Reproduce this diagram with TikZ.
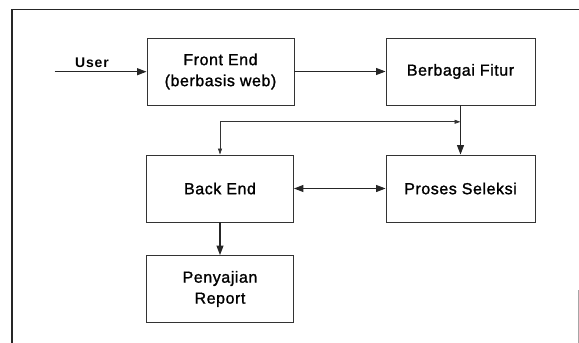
\documentclass[tikz,border=0pt]{standalone}
\usepackage{fontspec}
\setmainfont{Liberation Sans}[LetterSpace=3.5, FakeBold=1.3]
\newfontfamily\labelfont{Liberation Sans}[LetterSpace=6]
\usetikzlibrary{arrows.meta,calc}

\tikzset{
  block/.style={draw=black!80, line width=0.9pt, minimum width=147pt, minimum height=67pt,
    inner sep=0pt, align=center, font=\fontsize{16}{21}\selectfont},
  flow/.style={line width=1.1pt, draw=black!85, -{Triangle[length=9.5pt,width=7pt]}},
  twoway/.style={line width=1.1pt, draw=black!85, {Triangle[length=9.5pt,width=7pt]}-{Triangle[length=9.5pt,width=7pt]}},
  feedback/.style={line width=0.7pt, draw=black!80, {Triangle[length=6pt,width=4pt]}-{Triangle[length=6pt,width=4pt]}},
  frame/.style={line width=1.6pt, draw=black!85}
}

\begin{document}
\begin{tikzpicture}[x=1pt, y=-1pt]
  \useasboundingbox (0,0) rectangle (579,343);

  % enclosing frame (open at the bottom)
  \draw[frame] (12,343) -- (12,9.5) -- (579,9.5);
  \draw[line width=0.8pt, draw=black!35] (578,290) -- (578,343);

  % blocks
  \node[block] (front)  at (220.5,71.5) {Front End\\(berbasis web)};
  \node[block, minimum width=149pt] (fitur) at (460.5,71.5) {Berbagai Fitur};
  \node[block] (back)   at (220,188.5) {Back End};
  \node[block, minimum width=149pt] (seleksi) at (460.5,188.5) {Proses Seleksi};
  \node[block] (report) at (220,289) {Penyajian\\Report};

  % user input
  \coordinate (userin) at (54.5,71.7);
  \node[font=\labelfont\bfseries\fontsize{14}{16}\selectfont] (userlbl) at (92,62.5) {User};
  \draw[flow] (userin) -- (front.west |- userin);

  % main flow
  \draw[flow] (front.east) -- (fitur.west);
  \draw[flow] (fitur.south) -- (seleksi.north);
  \draw[twoway] (back.east) -- (seleksi.west);
  \draw[flow] (back.south) -- (report.north);

  % return path from the selection line back to the back end
  \coordinate (junc) at ($(fitur.south)!0.333!(seleksi.north)$);
  \draw[feedback] (back.north) |- (junc);
\end{tikzpicture}
\end{document}
